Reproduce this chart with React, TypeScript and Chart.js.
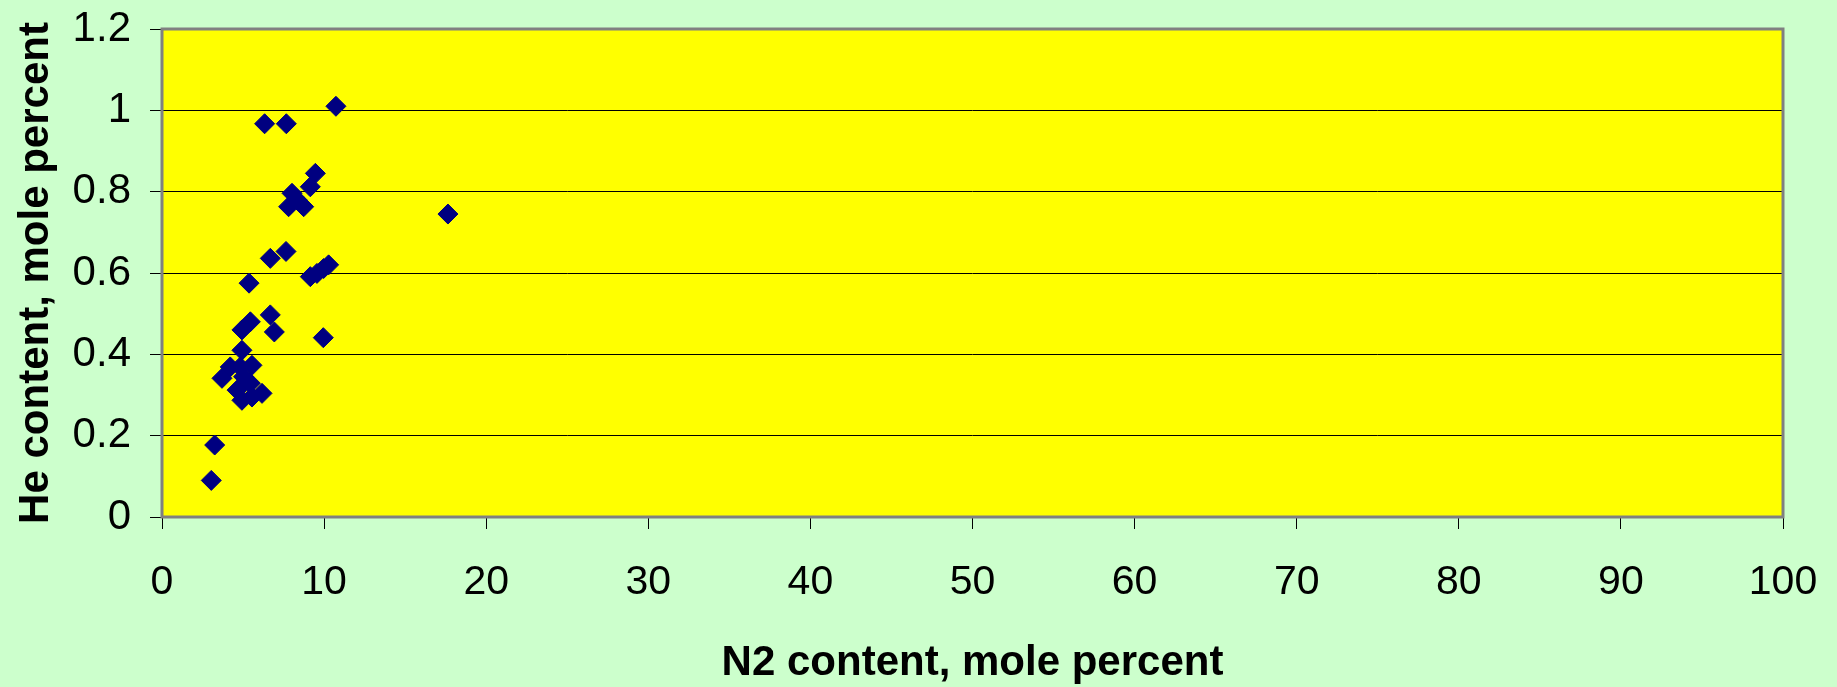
import React, { useEffect, useRef } from "react";
import { Chart, registerables } from "chart.js";

Chart.register(...registerables);

// N2 content (mole percent) of each sample
const n2Content: number[] = [
  10.73, 6.33, 7.67, 9.46, 9.15, 8.02, 8.33, 7.81, 8.74, 17.64,
  7.65, 6.68, 9.15, 9.56, 9.97, 10.28, 5.37, 6.68, 5.45, 4.93,
  6.93, 9.95, 4.93, 4.21, 4.83, 5.55, 3.7, 5.03, 5.45, 4.63,
  6.17, 5.55, 4.93, 3.25, 3.04,
];
// He content (mole percent) of each sample
const heContent: number[] = [
  1.01, 0.967, 0.967, 0.845, 0.812, 0.796, 0.78, 0.763, 0.763, 0.745,
  0.653, 0.636, 0.591, 0.599, 0.611, 0.62, 0.575, 0.497, 0.48, 0.46,
  0.455, 0.441, 0.41, 0.369, 0.369, 0.373, 0.341, 0.345, 0.329, 0.312,
  0.304, 0.295, 0.287, 0.177, 0.09,
];

const xTickValues: number[] = [0, 10, 20, 30, 40, 50, 60, 70, 80, 90, 100];
const yTickValues: number[] = [0, 0.2, 0.4, 0.6, 0.8, 1, 1.2];
const xTickLabels: string[] = ["0", "10", "20", "30", "40", "50", "60", "70", "80", "90", "100"];
const yTickLabels: string[] = ["0", "0.2", "0.4", "0.6", "0.8", "1", "1.2"];

const xTitle = "N2 content, mole percent";
const yTitle = "He content, mole percent";

const W = 1837;
const H = 687;

const plotPlugin = {
  id: "plotDecor",
  beforeDraw(chart: any) {
    const { ctx, chartArea } = chart;
    ctx.save();
    ctx.fillStyle = "#CCFFCC";
    ctx.fillRect(0, 0, chart.width, chart.height);
    ctx.fillStyle = "#FFFF00";
    ctx.fillRect(chartArea.left, chartArea.top, chartArea.right - chartArea.left, chartArea.bottom - chartArea.top);
    ctx.restore();
  },
  afterDraw(chart: any) {
    const { ctx, chartArea } = chart;
    ctx.save();
    ctx.strokeStyle = "#808080";
    ctx.lineWidth = 3;
    ctx.strokeRect(chartArea.left, chartArea.top, chartArea.right - chartArea.left, chartArea.bottom - chartArea.top);
    ctx.restore();
  },
};

export default function App() {
  const ref = useRef<HTMLCanvasElement | null>(null);

  useEffect(() => {
    if (!ref.current) return;
    const points = n2Content.map((x, i) => ({ x, y: heContent[i] }));
    const chart = new Chart(ref.current, {
      type: "scatter",
      data: {
        datasets: [
          {
            data: points,
            pointStyle: "rectRot",
            pointRadius: 10,
            pointHoverRadius: 10,
            backgroundColor: "#000080",
            borderColor: "#000080",
            borderWidth: 1,
          },
        ],
      },
      options: {
        responsive: false,
        animation: false,
        devicePixelRatio: 1,
        layout: { padding: { top: 29, right: 54, left: 0, bottom: 0 } },
        plugins: { legend: { display: false }, tooltip: { enabled: false } },
        scales: {
          x: {
            type: "linear",
            min: 0,
            max: 100,
            afterFit: (s: any) => {
              s.height = 170;
              s.paddingLeft = 0;
              s.paddingRight = 0;
            },
            afterBuildTicks: (s: any) => {
              s.ticks = xTickValues.map((v) => ({ value: v }));
            },
            border: { display: false },
            grid: {
              drawOnChartArea: false,
              drawTicks: true,
              tickLength: 12,
              color: "#000000",
              lineWidth: 1,
            },
            ticks: {
              padding: 29,
              color: "#000000",
              font: { family: "'Liberation Sans', Arial, sans-serif", size: 41, lineHeight: 1.2 },
              maxRotation: 0,
              callback: (v: any) => {
                const i = xTickValues.indexOf(Number(v));
                return i >= 0 ? xTickLabels[i] : "";
              },
            },
            title: {
              display: true,
              text: xTitle,
              color: "#000000",
              font: { family: "'Liberation Sans', Arial, sans-serif", size: 42, weight: "bold", lineHeight: 1 },
              padding: { top: 0, bottom: 3 },
            },
          },
          y: {
            type: "linear",
            min: 0,
            max: 1.2,
            afterFit: (s: any) => {
              s.width = 162;
              s.paddingTop = 0;
              s.paddingBottom = 0;
            },
            afterBuildTicks: (s: any) => {
              s.ticks = yTickValues.map((v) => ({ value: v }));
            },
            border: { display: false },
            grid: {
              drawOnChartArea: true,
              drawTicks: true,
              tickLength: 12,
              color: "#000000",
              lineWidth: 1,
            },
            ticks: {
              padding: 19,
              color: "#000000",
              font: { family: "'Liberation Sans', Arial, sans-serif", size: 42, lineHeight: 1.2 },
              callback: (v: any) => {
                const i = yTickValues.findIndex((t) => Math.abs(t - Number(v)) < 1e-9);
                return i >= 0 ? yTickLabels[i] : "";
              },
            },
            title: {
              display: true,
              text: yTitle,
              color: "#000000",
              font: { family: "'Liberation Sans', Arial, sans-serif", size: 42, weight: "bold", lineHeight: 1 },
              padding: { top: 15, bottom: 0 },
            },
          },
        },
      },
      plugins: [plotPlugin],
    });
    return () => chart.destroy();
  }, []);

  return (
    <div style={{ position: "absolute", left: 0, top: 0, width: W, height: H, background: "#CCFFCC" }}>
      <canvas ref={ref} width={W} height={H} style={{ display: "block", width: W, height: H }} />
    </div>
  );
}
